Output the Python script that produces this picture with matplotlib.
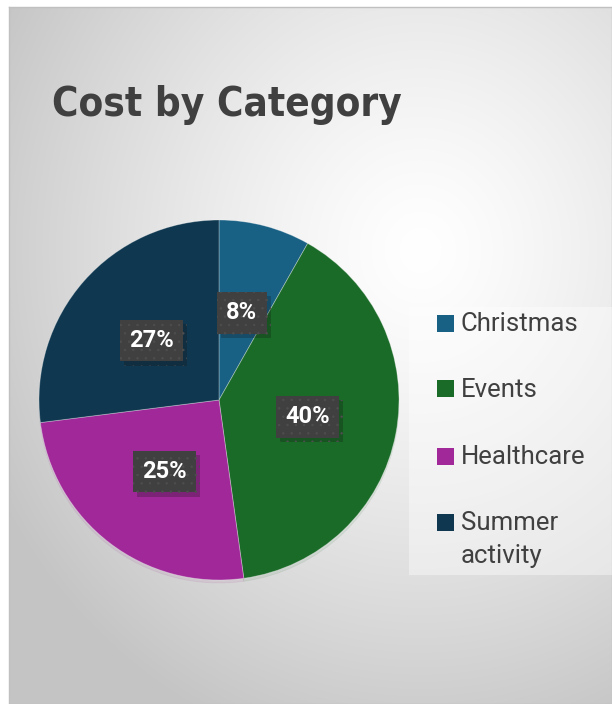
import numpy as np
import matplotlib
matplotlib.use("Agg")
import matplotlib.pyplot as plt
import matplotlib.patheffects as pe
from matplotlib.patches import Rectangle

# data
categories = ["Christmas", "Events", "Healthcare", "Summer activity"]
legend_labels = ["Christmas", "Events", "Healthcare", "Summer\nactivity"]
cost_share = [8.2, 39.6, 25.2, 27.0]
colors = ["#186084", "#1b6b28", "#a02899", "#0f3850"]

W, H = 612, 704
fig = plt.figure(figsize=(W / 100, H / 100), dpi=100)
fig.patch.set_facecolor("white")

def fx(px):
    return px / W

def fy(py):
    return 1 - py / H

# background panel with radial gradient
bg = fig.add_axes([fx(9), 0, 1 - fx(9), fy(7)])
xx, yy = np.meshgrid(np.arange(9, W), np.arange(7, H))
d = np.sqrt(((xx - 420) / 480) ** 2 + ((yy - 250) / 520) ** 2)
v = 1 - 0.23 * np.clip(d, 0, 1) ** 1.3
bg.imshow(np.dstack([v, v, v]), aspect="auto", extent=[0, 1, 0, 1])
bg.set_xticks([])
bg.set_yticks([])
for s in bg.spines.values():
    s.set_color("#c0c0c0")
    s.set_linewidth(1)

# title
fig.text(fx(52), fy(116), "Cost by Category", fontsize=29, fontweight="bold",
         family="DejaVu Sans", fontstretch="condensed", color="#404040",
         va="baseline")

# pie
cx, cy, r = 219, 400, 180
ax = fig.add_axes([fx(cx - r), fy(cy + r), 2 * r / W, 2 * r / H])
wedges, texts, autotexts = ax.pie(
    cost_share, colors=colors, startangle=90, counterclock=False,
    autopct=lambda p: f"{p:.0f}%", pctdistance=0.5,
    wedgeprops=dict(edgecolor=(1, 1, 1, 0.35), linewidth=0.6),
    shadow=dict(ox=0.0, oy=-0.012, shade=0.05, alpha=0.08),
)
ax.set_xlim(-1, 1)
ax.set_ylim(-1, 1)
ax.set_aspect("auto")
ax.axis("off")

plt.rcParams["hatch.linewidth"] = 0.5
for t in autotexts:
    t.set_color("white")
    t.set_fontsize(17)
    t.set_fontweight("bold")
    t.set_family("Roboto")
    t.set_bbox(dict(boxstyle="square,pad=0.4", facecolor="#404040",
                    edgecolor="#4e4e4e", linewidth=0, hatch=".."))
    t.get_bbox_patch().set_path_effects(
        [pe.SimplePatchShadow(offset=(3, -3), alpha=0.25), pe.Normal()])

# legend drawn manually so the square lines up with the first text line
fig.patches.append(Rectangle((fx(409), fy(575)), 1 - fx(409), (575 - 307) / H,
                             transform=fig.transFigure, facecolor="white",
                             edgecolor="none", alpha=0.4, zorder=1))
row_y = [323, 389, 456, 522]
for lab, col, y in zip(legend_labels, colors, row_y):
    fig.patches.append(Rectangle((fx(437), fy(y + 8.5)), 17 / W, 17 / H,
                                 transform=fig.transFigure, facecolor=col,
                                 edgecolor="none", zorder=3))
    fig.text(fx(461), fy(y - 11), lab, fontsize=18.5, family="Roboto",
             color="#404040", va="top", linespacing=1.5, zorder=3)

fig.savefig("out.png", dpi=100)
